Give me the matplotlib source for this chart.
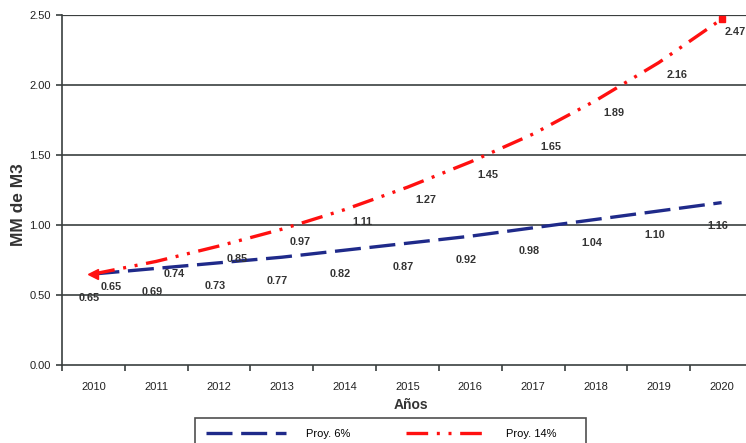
import matplotlib
matplotlib.use("Agg")
import matplotlib.pyplot as plt
from matplotlib.lines import Line2D

plt.rcParams['font.family'] = ['Liberation Sans', 'DejaVu Sans']

years = ['2010', '2011', '2012', '2013', '2014', '2015', '2016', '2017', '2018', '2019', '2020']
proy_6 = [0.65, 0.69, 0.73, 0.77, 0.82, 0.87, 0.92, 0.98, 1.04, 1.10, 1.16]
proy_14 = [0.65, 0.74, 0.85, 0.97, 1.11, 1.27, 1.45, 1.65, 1.89, 2.16, 2.47]
y_ticks = [0.0, 0.5, 1.0, 1.5, 2.0, 2.5]

W, H = 746, 443
fig = plt.figure(figsize=(W / 100, H / 100), dpi=100)
ax = fig.add_axes([62 / W, (H - 365) / H, (753 - 62) / W, 350 / H])

x = list(range(len(years)))
grid_col = '#3a3f3f'
blue = '#1f2a8a'
red = '#ff1010'
blue_dash = (7.8, 2.6)
red_dash = (6.5, 2.6, 0.9, 2.6, 0.9, 2.6)

for yv in y_ticks[1:]:
    ax.axhline(yv, color=grid_col, lw=1.2 if yv < 2.5 else 1.6, zorder=1)

ax.plot(x, proy_6, color=blue, lw=2.4, dashes=blue_dash, zorder=3)
ax.plot(x, proy_14, color=red, lw=2.4, dashes=red_dash, zorder=3)
ax.plot(x[0], proy_14[0], marker='<', color=red, ms=7, zorder=4)
ax.plot(x[-1], proy_14[-1], marker='s', color=red, ms=5, zorder=4)

lab_col = '#333333'
for i, v in enumerate(proy_6):
    ax.annotate(f'{v:.2f}', (i, v), xytext=(-3, -17), textcoords='offset points',
                ha='center', va='center', fontsize=7.8, fontweight='bold', color=lab_col)
for i, v in enumerate(proy_14):
    dx = 13 if i < len(proy_14) - 1 else 10
    ax.annotate(f'{v:.2f}', (i, v), xytext=(dx, -9), textcoords='offset points',
                ha='center', va='center', fontsize=7.8, fontweight='bold', color=lab_col)

ax.set_xlim(-0.5, len(years) - 0.5)
ax.set_ylim(0, 2.5)
ax.set_xticks(x)
ax.set_xticklabels(years)
ax.set_xticks([i - 0.5 for i in range(len(years) + 1)], minor=True)
ax.tick_params(axis='x', which='major', length=0, pad=12, labelsize=8, labelcolor='#222222')
ax.tick_params(axis='x', which='minor', length=4, width=1.2, color=grid_col, direction='out')
ax.set_yticks(y_ticks)
ax.set_yticklabels([f'{v:.2f}' for v in y_ticks])
ax.tick_params(axis='y', length=4, width=1.2, color=grid_col, labelsize=8,
               labelcolor='#222222', pad=4)

for s in ['top', 'right']:
    ax.spines[s].set_visible(False)
for s in ['left', 'bottom']:
    ax.spines[s].set_color(grid_col)
    ax.spines[s].set_linewidth(1.2)

fig.text(19 / W, 1 - 205 / H, 'MM de M3', rotation=90, ha='center', va='center',
         fontsize=12.5, fontweight='bold', color='#333333')
fig.text(411 / W, 1 - 405 / H, 'Años', ha='center', va='center',
         fontsize=10, fontweight='bold', color='#333333')

handles = [Line2D([], [], color=blue, lw=2.4, dashes=blue_dash),
           Line2D([], [], color=red, lw=2.4, dashes=red_dash)]
leg = fig.legend(handles, ['Proy. 6%', 'Proy. 14%      '], loc='upper left',
                 bbox_to_anchor=(195 / W, 1 - 418 / H), ncol=2, fontsize=8,
                 handlelength=7.2, columnspacing=5, fancybox=False, frameon=True,
                 borderpad=1.0, borderaxespad=0, handletextpad=1.8)
leg.get_frame().set_edgecolor('#222222')
leg.get_frame().set_linewidth(1.2)

fig.savefig('out.png', dpi=100)
